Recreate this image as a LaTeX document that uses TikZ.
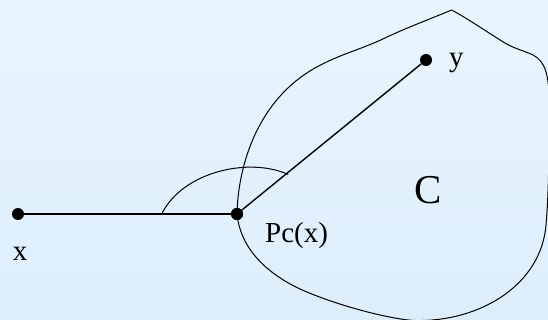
\documentclass[tikz,border=0pt]{standalone}
\usepackage{fontspec}
\setmainfont{Liberation Serif}
\definecolor{bgtop}{RGB}{232,245,254}
\definecolor{bgbot}{RGB}{221,238,251}
\tikzset{
  dot/.style={circle,fill=black,inner sep=0pt,minimum size=12pt},
  seg/.style={line width=1.4pt},
  thin/.style={line width=1pt},
  lbl/.style={inner sep=0pt,font=\fontsize{29}{34}\selectfont},
  big/.style={inner sep=0pt,font=\fontsize{41}{48}\selectfont}
}
\begin{document}
\begin{tikzpicture}[x=1pt,y=-1pt]
\useasboundingbox (0,0) rectangle (548,320);
\shade[top color=bgtop,bottom color=bgbot] (0,0) rectangle (548,320);
% points
\node[dot] (X) at (18,214) {};
\node[dot] (P) at (237,214) {};
\node[dot] (Y) at (426,60) {};
% convex set C
\draw[thin,line join=round] (P.center)
  .. controls (238,165) and (258,100) .. (315,68)
  .. controls (340,54) and (360,50) .. (385,38)
  .. controls (405,28.4) and (430,19) .. (451.7,10)
  .. controls (470,20) and (490,34) .. (505,43)
  .. controls (515,49) and (525,51) .. (533,55)
  .. controls (545,61) and (549,75) .. (549,100)
  .. controls (549,130) and (549.5,185) .. (546,225)
  .. controls (541,285) and (480,322) .. (415,320.5)
  .. controls (395,320) and (340,307) .. (300,289)
  .. controls (262,271) and (240,245) .. (P.center);
\draw[seg] (X) -- (P);
\draw[seg] (P) -- (Y);
\node[dot] at (P) {};
% angle arc
\draw[thin] (161.7,214) .. controls (183,171) and (250,157) .. (288.3,174.5);
% labels
\node[lbl,anchor=base] (lx) at (20,260) {x};
\node[lbl,anchor=base west] (lp) at (265,242.7) {Pc(x)};
\node[lbl,anchor=base west] (ly) at (449,66.5) {y};
\node[big,anchor=base] (lc) at (428.3,203.3) {C};
\end{tikzpicture}
\end{document}
